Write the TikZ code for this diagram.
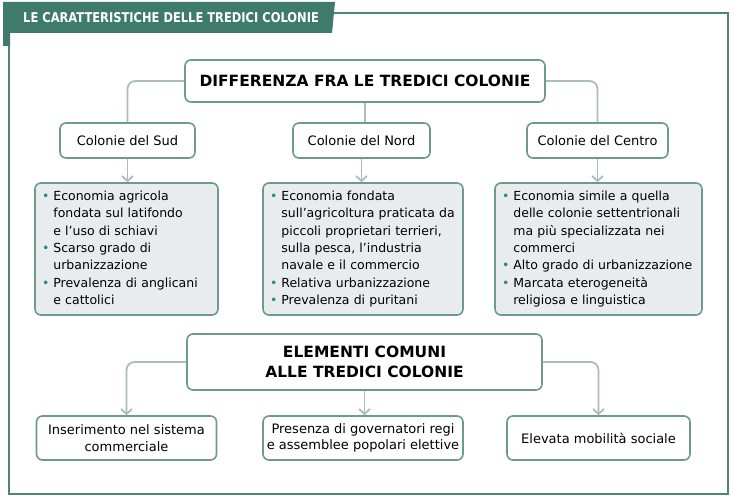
\documentclass[tikz,border=0pt]{standalone}
\usepackage{fontspec}
\setmainfont{DejaVu Sans}
\newfontfamily\tabfont[FakeStretch=0.85]{DejaVu Sans}
\usepackage{xcolor}
\usepackage{tikz}
\usetikzlibrary{arrows.meta, positioning}
\definecolor{framegreen}{HTML}{4F8574}
\definecolor{tabgreen}{HTML}{3E7C69}
\definecolor{boxgreen}{HTML}{6E9A8D}
\definecolor{linkgray}{HTML}{AABDB7}
\definecolor{listgray}{HTML}{E8ECED}
\definecolor{dotteal}{HTML}{2C8790}
\newcommand{\dotitem}{\textcolor{dotteal}{\textbullet}}
\tikzset{
  headbox/.style={rectangle, draw=boxgreen, fill=white, rounded corners=6pt,
                  line width=1.6pt, align=center,
                  font=\fontsize{15.5}{19.5}\selectfont\bfseries},
  colbox/.style={rectangle, draw=boxgreen, fill=white, rounded corners=6pt,
                 line width=1.6pt, minimum height=35pt, align=center,
                 font=\fontsize{13}{16.7}\selectfont},
  listbox/.style={rectangle, draw=boxgreen, fill=listgray, rounded corners=6pt,
                  line width=1.6pt, minimum height=132pt, inner xsep=7pt,
                  inner ysep=0pt, align=left,
                  font=\fontsize{12.5}{17.4}\selectfont},
  endbox/.style={rectangle, draw=boxgreen, fill=white, rounded corners=6pt,
                 line width=1.6pt, minimum height=44pt, align=center,
                 font=\fontsize{13}{16.7}\selectfont},
  link/.style={draw=linkgray, line width=1.8pt, rounded corners=8pt},
  linkarrow/.style={link, -{Straight Barb[length=5pt, width=11pt]}},
}

\begin{document}
\begin{tikzpicture}[x=1pt, y=-1pt,
  tabtitle/.style={anchor=west, text=white, inner sep=0pt,
                   font=\tabfont\bfseries\fontsize{13.5}{16}\selectfont}
]
  \useasboundingbox (0,0) rectangle (734,503);

  % frame and title tab
  \draw[framegreen, line width=1.8pt] (333,13) -- (728,13) -- (728,494)
    -- (9,494) -- (9,33);
  \fill[tabgreen] (3,2) -- (335,2) -- (332,33) -- (10,33) -- (10,46)
    -- (3,46) -- cycle;
  \node[tabtitle] (title) at (23,18) {LE CARATTERISTICHE DELLE TREDICI COLONIE};

  % differences
  \node[headbox, minimum width=360pt, minimum height=42pt] (diff) at (365,81)
    {DIFFERENZA FRA LE TREDICI COLONIE};

  \node[colbox, minimum width=135pt] (sud) at (127.5,140.5) {Colonie del Sud};
  \node[colbox, minimum width=137pt] (nord) at (361.5,140.5) {Colonie del Nord};
  \node[colbox, minimum width=141pt] (centro) at (597.5,140.5) {Colonie del Centro};

  \node[listbox, text width=169pt] (sudlist) at (126.5,249)
    {\begin{tabular}{@{}l@{\hspace{4pt}}l@{}}
      \dotitem & Economia agricola\\
               & fondata sul latifondo\\
               & e l'uso di schiavi\\
      \dotitem & Scarso grado di\\
               & urbanizzazione\\
      \dotitem & Prevalenza di anglicani\\
               & e cattolici
    \end{tabular}};
  \node[listbox, text width=186pt] (nordlist) at (363,249)
    {\begin{tabular}{@{}l@{\hspace{4pt}}l@{}}
      \dotitem & Economia fondata\\
               & sull'agricoltura praticata da\\
               & piccoli proprietari terrieri,\\
               & sulla pesca, l'industria\\
               & navale e il commercio\\
      \dotitem & Relativa urbanizzazione\\
      \dotitem & Prevalenza di puritani
    \end{tabular}};
  \node[listbox, text width=193pt] (centrolist) at (598.5,249)
    {\begin{tabular}{@{}l@{\hspace{4pt}}l@{}}
      \dotitem & Economia simile a quella\\
               & delle colonie settentrionali\\
               & ma più specializzata nei\\
               & commerci\\
      \dotitem & Alto grado di urbanizzazione\\
      \dotitem & Marcata eterogeneità\\
               & religiosa e linguistica
    \end{tabular}};

  \draw[link] (diff.west) -| (sud.north);
  \draw[link] (diff.south) -- (diff.south |- nord.north);
  \draw[link] (diff.east) -| (centro.north);
  \draw[linkarrow] (sud.south) -- (sud.south |- sudlist.north);
  \draw[linkarrow] (nord.south) -- (nord.south |- nordlist.north);
  \draw[linkarrow] (centro.south) -- (centro.south |- centrolist.north);

  % common elements
  \node[headbox, minimum width=355pt, minimum height=56pt] (comuni) at (364.5,362)
    {ELEMENTI COMUNI\\ALLE TREDICI COLONIE};

  \node[endbox, minimum width=180pt] (inser) at (126.5,438)
    {Inserimento nel sistema\\commerciale};
  \node[endbox, minimum width=200pt] (pres) at (363,438)
    {Presenza di governatori regi\\e assemblee popolari elettive};
  \node[endbox, minimum width=183pt] (elev) at (598.5,438)
    {Elevata mobilità sociale};

  \draw[linkarrow] (comuni.west) -| (inser.north);
  \draw[linkarrow] (comuni.south) -- (comuni.south |- pres.north);
  \draw[linkarrow] (comuni.east) -| (elev.north);
\end{tikzpicture}
\end{document}
